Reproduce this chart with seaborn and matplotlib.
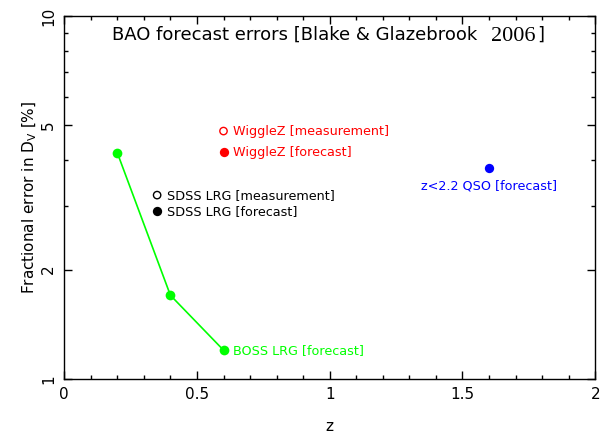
import matplotlib
matplotlib.use("Agg")
import matplotlib.pyplot as plt
from matplotlib.ticker import FixedLocator, NullFormatter, MultipleLocator
import seaborn as sns
import pandas as pd

# BOSS LRG forecast curve
boss_z = [0.2, 0.4, 0.6]
boss_err = [4.2, 1.7, 1.2]

# WiggleZ
wigglez_z = [0.6]
wigglez_meas = [4.82]
wigglez_fore = [4.22]

# SDSS LRG
sdss_z = [0.35]
sdss_meas = [3.21]
sdss_fore = [2.9]

# QSO forecast
qso_z = [1.6]
qso_fore = [3.81]

x_ticks = [0, 0.5, 1, 1.5, 2]
x_ticklabels = ["0", "0.5", "1", "1.5", "2"]
y_ticks = [1, 2, 5, 10]
y_ticklabels = ["1", "2", "5", "10"]

sns.set_theme(style="ticks")
plt.rcParams["font.family"] = ["DejaVu Sans"]
plt.rcParams["mathtext.fontset"] = "dejavusans"
plt.rcParams["text.color"] = "black"
plt.rcParams["axes.labelcolor"] = "black"

GREEN = "#00ff00"
RED = "#ff0000"
BLUE = "#0000ff"

fig = plt.figure(figsize=(6.0, 4.34), dpi=100)
ax = fig.add_axes([0.107, 0.127, 0.885, 0.836])

boss = pd.DataFrame({"z": boss_z, "err": boss_err})
sns.lineplot(data=boss, x="z", y="err", ax=ax, color=GREEN, lw=1.2,
             marker="o", markersize=7, markeredgewidth=0, zorder=3)

sns.scatterplot(x=wigglez_z, y=wigglez_meas, ax=ax, marker="o", s=28,
                facecolor="none", edgecolor=RED, linewidth=1.0, zorder=3)
sns.scatterplot(x=wigglez_z, y=wigglez_fore, ax=ax, marker="o", s=45,
                color=RED, linewidth=0, zorder=3)
sns.scatterplot(x=sdss_z, y=sdss_meas, ax=ax, marker="o", s=28,
                facecolor="none", edgecolor="black", linewidth=1.0, zorder=3)
sns.scatterplot(x=sdss_z, y=sdss_fore, ax=ax, marker="o", s=45,
                color="black", linewidth=0, zorder=3)
sns.scatterplot(x=qso_z, y=qso_fore, ax=ax, marker="o", s=45,
                color=BLUE, linewidth=0, zorder=3)

ax.set_yscale("log")
ax.set_xlim(0, 2)
ax.set_ylim(1, 10)

ax.xaxis.set_major_locator(FixedLocator(x_ticks))
ax.set_xticklabels(x_ticklabels)
ax.xaxis.set_minor_locator(MultipleLocator(0.1))
ax.yaxis.set_major_locator(FixedLocator(y_ticks))
ax.set_yticklabels(y_ticklabels, rotation=90, va="center")
ax.yaxis.set_minor_locator(FixedLocator([3, 4, 6, 7, 8, 9]))
ax.yaxis.set_minor_formatter(NullFormatter())

for side in ["top", "right", "left", "bottom"]:
    ax.spines[side].set_visible(True)
    ax.spines[side].set_color("black")
    ax.spines[side].set_linewidth(1.0)
ax.tick_params(which="both", direction="in", top=True, right=True,
               colors="black", labelsize=11)
ax.tick_params(which="major", length=6, width=1.0, pad=6)
ax.tick_params(which="minor", length=3, width=1.0)

ax.set_xlabel("z", fontsize=11, labelpad=12)
ax.set_ylabel(r"Fractional error in D$_{\rm V}$ [%]", fontsize=11, labelpad=1)

lab = dict(fontsize=9.2, va="center", ha="left")
ax.annotate("WiggleZ [measurement]", (wigglez_z[0], wigglez_meas[0]),
            xytext=(7, 0), textcoords="offset points", color=RED, **lab)
ax.annotate("WiggleZ [forecast]", (wigglez_z[0], wigglez_fore[0]),
            xytext=(7, 0), textcoords="offset points", color=RED, **lab)
ax.annotate("SDSS LRG [measurement]", (sdss_z[0], sdss_meas[0]),
            xytext=(7, 0), textcoords="offset points", color="black", **lab)
ax.annotate("SDSS LRG [forecast]", (sdss_z[0], sdss_fore[0]),
            xytext=(7, 0), textcoords="offset points", color="black", **lab)
ax.annotate("BOSS LRG [forecast]", (boss_z[-1], boss_err[-1]),
            xytext=(7, 0), textcoords="offset points", color=GREEN, **lab)
ax.annotate("z<2.2 QSO [forecast]", (qso_z[0], qso_fore[0]),
            xytext=(0, -13), textcoords="offset points", color=BLUE,
            fontsize=9.2, ha="center", va="center")

# title: sans text followed by a serif year and closing bracket
t1 = ax.text(0.09, 0.948, "BAO forecast errors [Blake & Glazebrook",
             transform=ax.transAxes, ha="left", va="center", fontsize=13,
             color="black")
t2 = ax.annotate("2006", xy=(1, 0), xycoords=t1, xytext=(10, -1.5),
                 textcoords="offset points", ha="left", va="bottom",
                 fontsize=16, family="Liberation Serif", color="black")
ax.annotate("]", xy=(1, 0), xycoords=t2, xytext=(1, 1.5),
            textcoords="offset points", ha="left", va="bottom",
            fontsize=13, color="black")

fig.savefig("out.png", dpi=100)
